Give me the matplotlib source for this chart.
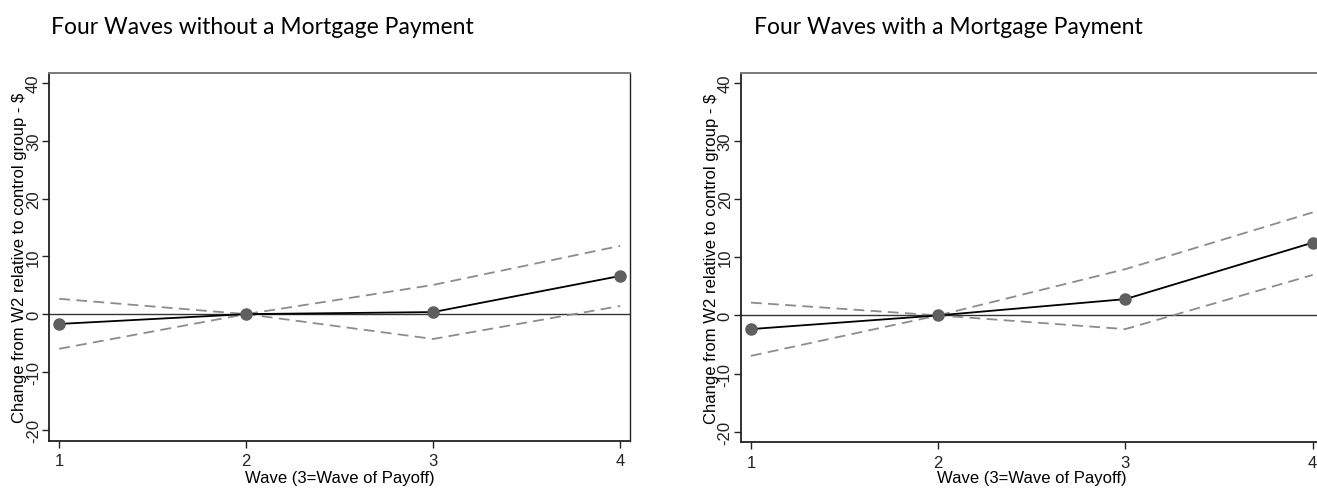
import matplotlib

matplotlib.use("Agg")
import matplotlib.pyplot as plt

waves = [1, 2, 3, 4]

# panel 1: no mortgage payment
est_no = [-1.7, 0.0, 0.35, 6.6]
hi_no = [2.65, 0.0, 5.05, 11.8]
lo_no = [-6.0, 0.0, -4.3, 1.4]

# panel 2: with mortgage payment
est_mp = [-2.35, 0.0, 2.8, 12.5]
hi_mp = [2.2, 0.0, 7.95, 17.7]
lo_mp = [-6.95, 0.0, -2.35, 6.95]

titles = ["Four Waves without a Mortgage Payment", "Four Waves with a Mortgage Payment"]
y_ticks = [-20, -10, 0, 10, 20, 30, 40]
ylabel = "Change from W2 relative to control group - $"
xlabel = "Wave (3=Wave of Payoff)"

plt.rcParams["axes.unicode_minus"] = False

W, H = 1317, 489
fig = plt.figure(figsize=(W / 100, H / 100), dpi=100)
fig.patch.set_facecolor("white")

panels = [
    dict(rect=[49.3 / W, 1 - 441.7 / H, (630 - 49.3) / W, (441.7 - 73.5) / H],
         ylim=(-21.9, 41.8), est=est_no, hi=hi_no, lo=lo_no, title_x=262 / W, xpad=1.5),
    dict(rect=[741 / W, 1 - 443.3 / H, (1322.6 - 741) / W, (443.3 - 73.7) / H],
         ylim=(-21.8, 41.7), est=est_mp, hi=hi_mp, lo=lo_mp, title_x=948.5 / W, xpad=0.0),
]

label_font = ["Liberation Sans", "DejaVu Sans"]

for p, title in zip(panels, titles):
    ax = fig.add_axes(p["rect"])
    ax.axhline(0, color="#333333", linewidth=1.0, zorder=1)
    ax.plot(waves, p["hi"], color="#8c8c8c", linewidth=1.3, linestyle=(0, (6, 3.5)), zorder=2)
    ax.plot(waves, p["lo"], color="#8c8c8c", linewidth=1.3, linestyle=(0, (6, 3.5)), zorder=2)
    ax.plot(waves, p["est"], color="black", linewidth=1.3, zorder=3)
    ax.plot(waves, p["est"], "o", color="#5f5f5f", markersize=8, zorder=4, clip_on=False)
    ax.set_xlim(0.947, 4.053)
    ax.set_ylim(*p["ylim"])
    ax.set_xticks(waves)
    ax.set_yticks(y_ticks)
    ax.tick_params(direction="out", length=5, width=1, colors="#222222", labelsize=12)
    for lab in ax.get_yticklabels():
        lab.set_rotation(90)
        lab.set_va("center")
        lab.set_family(label_font)
    for lab in ax.get_xticklabels():
        lab.set_family(label_font)
    ax.tick_params(axis="y", pad=1)
    ax.tick_params(axis="x", pad=4)
    ax.set_xlabel(xlabel, fontsize=12, family=label_font, labelpad=p["xpad"])
    ax.set_ylabel(ylabel, fontsize=12, family=label_font, labelpad=-1)
    ax.spines["top"].set_color("#7a7a7a")
    ax.spines["top"].set_linewidth(1.4)
    ax.spines["left"].set_color("#222222")
    ax.spines["bottom"].set_color("#222222")
    ax.spines["right"].set_color("#222222")
    for s in ["left", "bottom"]:
        ax.spines[s].set_linewidth(1.3)
    ax.spines["right"].set_linewidth(1.0)
    fig.text(p["title_x"], 1 - 28 / H, title, ha="center", va="center",
             fontsize=16.5, family=["Lato", "DejaVu Sans"])

fig.savefig("out.png", dpi=100)
